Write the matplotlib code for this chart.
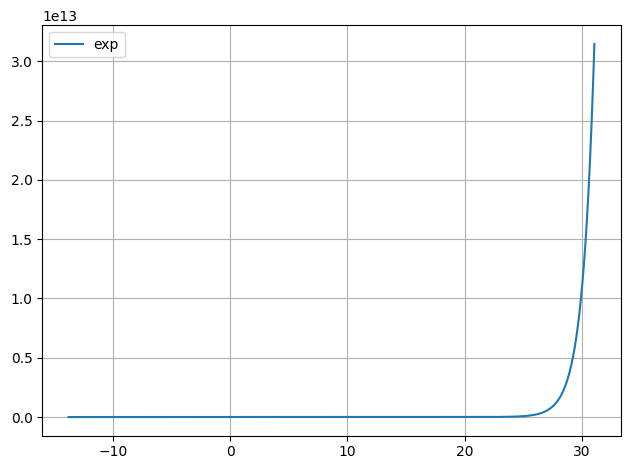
import numpy as np
import matplotlib.pyplot as plt

# the curve is the exponential function, read range from the picture
x_range = [-13.8, 31.08]
label = 'exp'

x = np.linspace(x_range[0], x_range[1], 1000)
y = np.exp(x)

plt.figure(figsize=(6.3, 4.7), dpi=100)
plt.plot(x, y, label=label)
plt.legend(loc='upper left')
plt.grid(True)
plt.subplots_adjust(left=0.0671, right=0.9852, bottom=0.073, top=0.9462)
plt.savefig('out.png')
